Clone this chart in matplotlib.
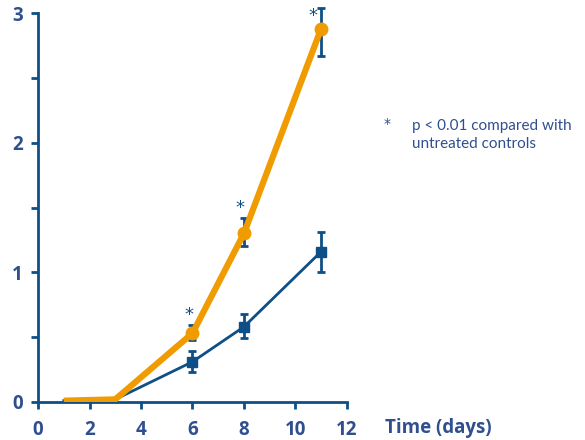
import matplotlib.pyplot as plt

plt.rcParams['font.family'] = ['Open Sans', 'DejaVu Sans']

# data
days = [1, 3, 6, 8, 11]
treated = [0.01, 0.02, 0.53, 1.30, 2.88]
treated_err_lo = [0, 0, 0.05, 0.10, 0.21]
treated_err_hi = [0, 0, 0.06, 0.12, 0.16]

control = [0.01, 0.02, 0.31, 0.58, 1.16]
control_err_lo = [0, 0, 0.08, 0.09, 0.16]
control_err_hi = [0, 0, 0.08, 0.10, 0.15]

star_x = [5.85, 7.85, 10.7]
star_y = [0.60, 1.43, 2.91]

blue = '#0d4f86'
orange = '#f09b00'
text_blue = '#2f4f8f'

fig = plt.figure(figsize=(5.85, 4.4), dpi=100)
ax = fig.add_axes([0.065, 0.0864, 0.528, 0.884])

# error bars (blue) go under the markers
for vals, lo, hi in [(treated, treated_err_lo, treated_err_hi),
                     (control, control_err_lo, control_err_hi)]:
    eb = ax.errorbar(days[2:], vals[2:], yerr=[lo[2:], hi[2:]],
                     fmt='none', ecolor=blue, elinewidth=2, capsize=3,
                     capthick=2, zorder=2)
    for art in eb.lines[1] + eb.lines[2]:
        art.set_clip_on(False)

ax.plot(days, control, color=blue, lw=2, zorder=3)
ax.plot(days[2:], control[2:], 's', color=blue, ms=6.5, zorder=4)

ax.plot(days, treated, color=orange, lw=4.5, solid_capstyle='butt', zorder=3)
ax.plot(days[2:], treated[2:], 'o', color=orange, ms=9, zorder=4, clip_on=False)

for x, y in zip(star_x, star_y):
    ax.text(x, y, '*', color=blue, fontsize=13, ha='center', va='bottom',
            family='DejaVu Sans')

ax.set_xlim(0, 12)
ax.set_ylim(0, 3)
ax.set_xticks(range(0, 13, 2))
ax.set_yticks([0, 0.5, 1, 1.5, 2, 2.5, 3])
ax.set_yticklabels(['0', '', '1', '', '2', '', '3'])

for s in ['top', 'right']:
    ax.spines[s].set_visible(False)
for s in ['left', 'bottom']:
    ax.spines[s].set_color(blue)
    ax.spines[s].set_linewidth(2)

ax.tick_params(axis='both', colors=blue, width=2, length=5, direction='out',
               labelcolor=text_blue, labelsize=13.5)
ax.tick_params(axis='x', pad=8)
ax.tick_params(axis='y', pad=6)
for lbl in ax.get_xticklabels() + ax.get_yticklabels():
    lbl.set_fontweight('bold')

fig.text(0.658, 0.016, 'Time (days)', color=text_blue, fontsize=13.5,
         fontweight='bold', va='baseline')

fig.text(0.655, 0.708, '*', color=text_blue, fontsize=10, family='DejaVu Sans')
fig.text(0.705, 0.705, 'p < 0.01 compared with', color=text_blue, fontsize=11,
         family='Lato')
fig.text(0.705, 0.663, 'untreated controls', color=text_blue, fontsize=11,
         family='Lato')

plt.savefig('out.png', dpi=100)
